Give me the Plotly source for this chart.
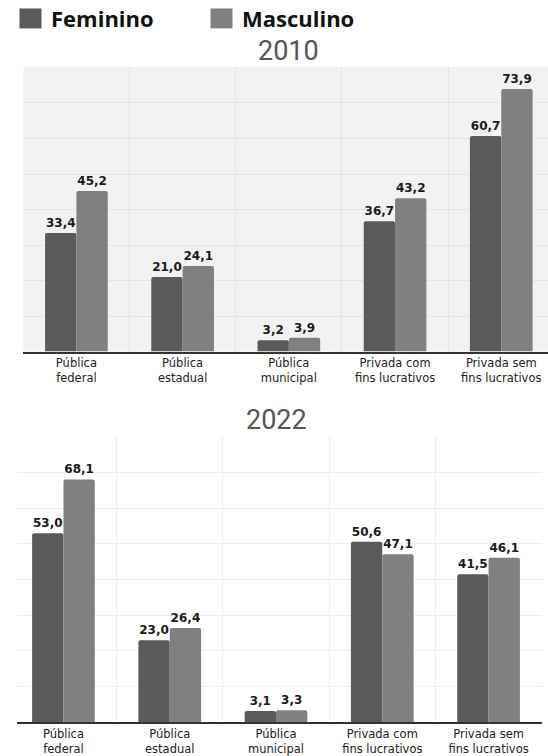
import plotly.graph_objects as go

categories = ["Pública<br>federal", "Pública<br>estadual", "Pública<br>municipal",
              "Privada com<br>fins lucrativos", "Privada sem<br>fins lucrativos"]
fem_2010 = [33.4, 21.0, 3.2, 36.7, 60.7]
mas_2010 = [45.2, 24.1, 3.9, 43.2, 73.9]
fem_2022 = [53.0, 23.0, 3.1, 50.6, 41.5]
mas_2022 = [68.1, 26.4, 3.3, 47.1, 46.1]
series_names = ["Feminino", "Masculino"]
years = ["2010", "2022"]

C_FEM = "#5a5a5a"
C_MAS = "#808080"
LABEL_FONT = dict(family="DejaVu Sans", size=12, color="#1a1a1a", weight="bold")

fig = go.Figure()

def add_pair(fem, mas, xa, ya):
    for name, vals, col in [(series_names[0], fem, C_FEM), (series_names[1], mas, C_MAS)]:
        fig.add_trace(go.Bar(
            x=categories, y=vals, name=name, marker=dict(color=col, line=dict(width=0)),
            texttemplate="%{y:.1f}", textposition="outside", textfont=LABEL_FONT,
            cliponaxis=False, xaxis=xa, yaxis=ya, showlegend=False,
        ))

add_pair(fem_2010, mas_2010, "x", "y")
add_pair(fem_2022, mas_2022, "x2", "y2")

H = 756.0
def py(px):
    return (H - px) / H

xcommon = dict(type="category", tickson="boundaries", showgrid=True, ticks="",
               showline=True, linecolor="#333333", linewidth=2,
               tickfont=dict(family="DejaVu Sans", size=11.5, color="#222222"),
               fixedrange=True)
ycommon = dict(range=[0, 80.2], dtick=10, showticklabels=False, ticks="",
               zeroline=False, showline=False, fixedrange=True)

fig.update_layout(
    width=548, height=756,
    margin=dict(l=0, r=0, t=0, b=0),
    paper_bgcolor="white", plot_bgcolor="rgba(0,0,0,0)",
    separators=",.",
    barmode="group", bargap=0.41, bargroupgap=0.0, barcornerradius=2,
    xaxis=dict(domain=[23.3/548, 1.0], range=[-0.5, 4.44], anchor="y",
               gridcolor="#e4e4e4", **xcommon),
    yaxis=dict(domain=[py(353), py(67)], anchor="x", showgrid=True,
               gridcolor="#e4e4e4", **ycommon),
    xaxis2=dict(domain=[16.7/548, 541.7/548], range=[-0.44, 4.5], anchor="y2",
                gridcolor="#eeeeee", **xcommon),
    yaxis2=dict(domain=[py(725), py(438)], anchor="x2", showgrid=True,
                gridcolor="#eeeeee", **ycommon),
    showlegend=False,
)

# background of the 2010 panel
fig.add_shape(type="rect", xref="x domain", yref="y domain", x0=0, x1=1, y0=0, y1=1,
              fillcolor="#f2f2f2", line=dict(width=0), layer="below")

title_font = dict(family="Roboto", size=27, color="#555555")
fig.add_annotation(text=years[0], xref="x", yref="paper", x=2, y=py(51),
                   showarrow=False, yanchor="middle", font=title_font)
fig.add_annotation(text=years[1], xref="x2", yref="paper", x=2, y=py(421.5),
                   showarrow=False, yanchor="middle", font=title_font)

# legend swatches and labels
leg_font = dict(family="Open Sans", size=22, color="#111111", weight="bold")
for (x0, x1, tx, name, col) in [(19.5, 41.5, 49, series_names[0], C_FEM),
                                (210.5, 232.5, 240, series_names[1], C_MAS)]:
    fig.add_shape(type="rect", xref="paper", yref="paper",
                  x0=x0/548, x1=x1/548, y0=py(28.5), y1=py(8.5),
                  fillcolor=col, line=dict(width=0))
    fig.add_annotation(text=name, xref="paper", yref="paper", x=tx/548, y=py(18.5),
                       xanchor="left", yanchor="middle", showarrow=False, font=leg_font)

fig.write_html("out.html", config={"displayModeBar": False, "staticPlot": True},
               post_script="document.body.style.margin='0';document.body.style.overflow='hidden';")
